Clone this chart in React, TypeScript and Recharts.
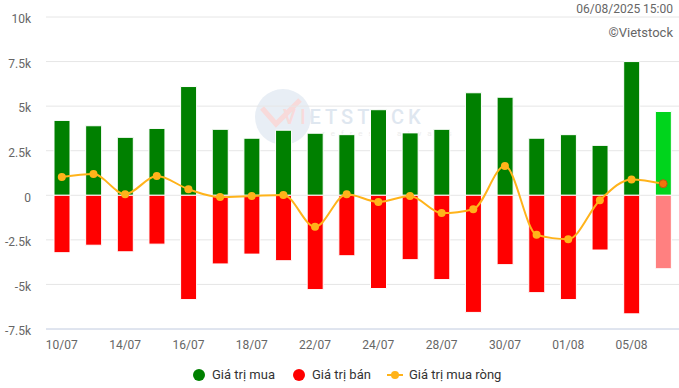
import { ComposedChart, Bar, Line, XAxis, YAxis, CartesianGrid, Cell } from 'recharts';

const dates = ['10/07', '11/07', '14/07', '15/07', '16/07', '17/07', '18/07', '21/07', '22/07', '23/07',
  '24/07', '25/07', '28/07', '29/07', '30/07', '31/07', '01/08', '04/08', '05/08', '06/08'];
const buyValues = [4200, 3900, 3250, 3750, 6100, 3700, 3200, 3650, 3480, 3400,
  4800, 3500, 3700, 5750, 5500, 3200, 3400, 2800, 7500, 4700];
const sellValues = [-3220, -2800, -3170, -2740, -5850, -3850, -3300, -3670, -5290, -3390,
  -5230, -3610, -4730, -6570, -3890, -5460, -5850, -3070, -6650, -4120];
const netValues = [1020, 1190, 60, 1080, 340, -100, -40, 20, -1770, 60,
  -370, -40, -1000, -780, 1640, -2220, -2460, -280, 890, 650];
const yTicks = [-7500, -5000, -2500, 0, 2500, 5000, 7500, 10000];

const FONT = 'Roboto, "Noto Sans", sans-serif';
const GREEN = '#008000';
const RED = '#ff0000';
const ORANGE = '#ffb31a';

const data = dates.map((d, i) => ({ date: d, buy: buyValues[i], sell: sellValues[i], net: netValues[i] }));
const lastIdx = dates.length - 1;

function fmtK(v: number) {
  if (v === 0) return '0';
  return `${v / 1000}k`;
}

// last point (today) gets a darker dot
function NetDot(props: any) {
  const { cx, cy, index } = props;
  if (cx == null || cy == null) return null;
  const last = index === lastIdx;
  return (
    <circle key={`dot-${index}`} cx={cx} cy={cy} r={4}
      fill={last ? '#f2720c' : ORANGE}
      stroke={last ? '#b85a10' : ORANGE} strokeWidth={last ? 1 : 0} />
  );
}

function Watermark() {
  return (
    <svg width={679} height={388} style={{ position: 'absolute', left: 0, top: 0 }}>
      <circle cx={283} cy={117} r={28} fill="#e8eef5" />
      <path d="M262 108 L276 124 L300 100" fill="none" stroke="#f8dada" strokeWidth={5} />
      <text x={283} y={124} fontFamily={FONT} fontWeight={500} fontSize={20} letterSpacing={4}>
        <tspan fill="#f8dada">VI</tspan>
        <tspan fill="#dfe7f0">ETSTOCK</tspan>
      </text>
      <text x={322} y={136} fontFamily={FONT} fontSize={8} letterSpacing={6} fill="#ececec">refresh always</text>
    </svg>
  );
}

function LegendBar() {
  const item = { position: 'absolute' as const, top: 367, fontFamily: FONT, fontSize: 13, color: '#333' };
  return (
    <>
      <svg width={679} height={388} style={{ position: 'absolute', left: 0, top: 0 }}>
        <circle cx={199} cy={375} r={6} fill={GREEN} />
        <circle cx={299} cy={375} r={6} fill={RED} />
        <line x1={387} y1={375} x2={403} y2={375} stroke={ORANGE} strokeWidth={2} />
        <circle cx={395} cy={375} r={4} fill={ORANGE} />
      </svg>
      <div style={{ ...item, left: 212 }}>Giá trị mua</div>
      <div style={{ ...item, left: 312 }}>Giá trị bán</div>
      <div style={{ ...item, left: 409 }}>Giá trị mua ròng</div>
    </>
  );
}

export default function App() {
  return (
    <div style={{ position: 'fixed', left: 0, top: 0, width: 679, height: 388, background: '#fff', overflow: 'hidden' }}>
      <Watermark />
      <div style={{ position: 'absolute', left: 0, top: 0 }}>
        <ComposedChart width={679} height={388} data={data} stackOffset="sign"
          margin={{ top: 17, right: 0, left: 0, bottom: 29 }} barCategoryGap={0}>
          <CartesianGrid stroke="#e6e6e6" vertical={false} />
          <XAxis dataKey="date" interval={1} tickLine={false} axisLine={{ stroke: '#ccd6eb' }}
            tick={{ fill: '#666', fontSize: 12, fontFamily: FONT }} tickSize={0} tickMargin={11} height={30} />
          <YAxis domain={[-7500, 10000]} ticks={yTicks} interval={0} tickFormatter={fmtK}
            axisLine={false} tickLine={false} tickSize={0} tickMargin={15} width={46}
            tick={{ fill: '#666', fontSize: 12, fontFamily: FONT, dy: 2 }} />
          <Bar dataKey="buy" stackId="s" barSize={16} stroke="#fff" strokeWidth={1} isAnimationActive={false}>
            {data.map((_, i) => <Cell key={`b-${i}`} fill={i === lastIdx ? '#00d41c' : GREEN} />)}
          </Bar>
          <Bar dataKey="sell" stackId="s" barSize={16} stroke="#fff" strokeWidth={1} isAnimationActive={false}>
            {data.map((_, i) => <Cell key={`s-${i}`} fill={i === lastIdx ? '#ff8080' : RED} />)}
          </Bar>
          <Line type="monotone" dataKey="net" stroke={ORANGE} strokeWidth={2} dot={NetDot}
            activeDot={false} isAnimationActive={false} />
        </ComposedChart>
      </div>
      <div style={{ position: 'absolute', right: 6, top: 2, fontFamily: FONT, fontSize: 12, color: '#666' }}>06/08/2025 15:00</div>
      <div style={{ position: 'absolute', right: 6, top: 25, fontFamily: FONT, fontSize: 13, color: '#666' }}>©Vietstock</div>
      <LegendBar />
    </div>
  );
}
